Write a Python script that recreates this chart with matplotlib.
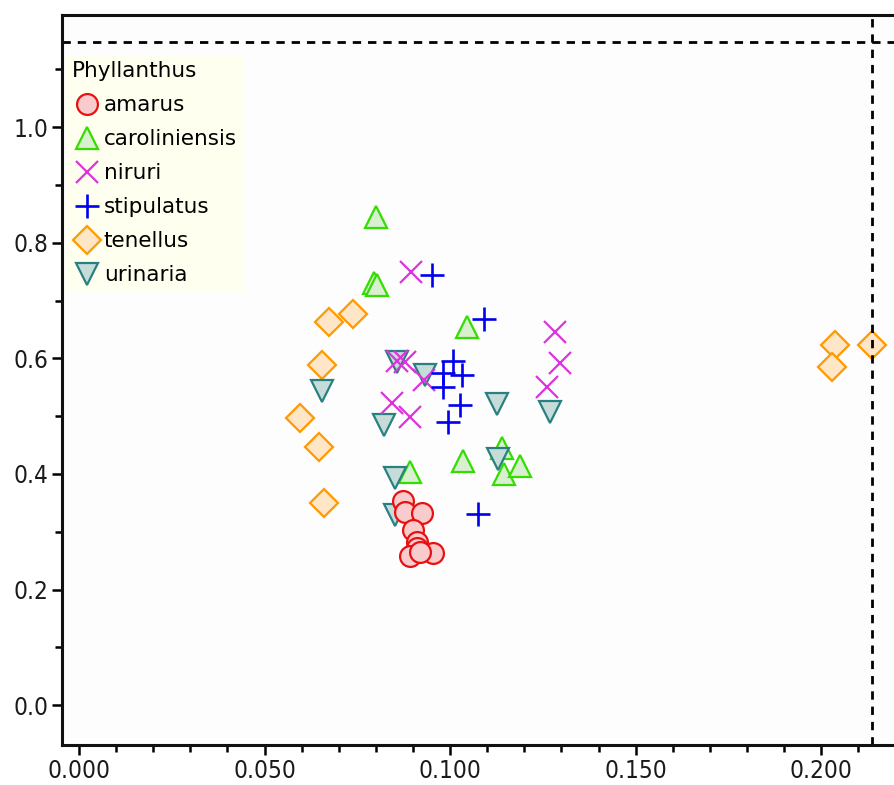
import matplotlib
matplotlib.use('Agg')
import matplotlib.pyplot as plt
from matplotlib.ticker import MultipleLocator, FormatStrFormatter

# ratio measurements per Phyllanthus species
amarus_x = [0.0873, 0.0879, 0.0925, 0.0900, 0.0911, 0.0911, 0.0892, 0.0954, 0.0919]
amarus_y = [0.353, 0.334, 0.332, 0.303, 0.282, 0.272, 0.258, 0.263, 0.265]

caroliniensis_x = [0.0801, 0.0795, 0.0803, 0.1046, 0.0892, 0.1035, 0.1140, 0.1146, 0.1189]
caroliniensis_y = [0.844, 0.730, 0.727, 0.654, 0.403, 0.422, 0.445, 0.400, 0.413]

niruri_x = [0.0895, 0.1283, 0.1296, 0.1261, 0.0857, 0.0879, 0.0930, 0.0844, 0.0892]
niruri_y = [0.749, 0.645, 0.592, 0.550, 0.595, 0.593, 0.562, 0.522, 0.498]

stipulatus_x = [0.0951, 0.1092, 0.1008, 0.0981, 0.1032, 0.0981, 0.1027, 0.0995, 0.1075]
stipulatus_y = [0.744, 0.668, 0.595, 0.574, 0.571, 0.550, 0.519, 0.490, 0.330]

tenellus_x = [0.0674, 0.0739, 0.0655, 0.0596, 0.0647, 0.0660, 0.2038, 0.2030, 0.2137]
tenellus_y = [0.663, 0.676, 0.588, 0.497, 0.446, 0.349, 0.623, 0.585, 0.623]

urinaria_x = [0.0655, 0.0857, 0.0933, 0.0822, 0.1127, 0.1270, 0.0852, 0.1129, 0.0852]
urinaria_y = [0.543, 0.593, 0.571, 0.484, 0.521, 0.507, 0.393, 0.426, 0.329]

# reference cut-offs
x_limit = 0.2137
y_limit = 1.147

plt.rcParams['font.family'] = ['DejaVu Sans']

fig = plt.figure(figsize=(8.95, 7.85), dpi=100)
ax = fig.add_axes([62 / 895, 40 / 785, 1 - 62 / 895, 730 / 785])
ax.set_facecolor('#fdfdfd')

ms = 15
series = {
    'caroliniensis': ax.plot(caroliniensis_x, caroliniensis_y, ls='none', marker='^', ms=ms + 1,
                             mec='#33dd00', mfc='#d8f0d0', mew=1.6)[0],
    'tenellus': ax.plot(tenellus_x, tenellus_y, ls='none', marker='D', ms=ms - 1,
                        mec='#ff9900', mfc='#ffe6c6', mew=1.6)[0],
    'urinaria': ax.plot(urinaria_x, urinaria_y, ls='none', marker='v', ms=ms + 1,
                        mec='#2a8080', mfc='#c5dcd9', mew=1.6)[0],
    'amarus': ax.plot(amarus_x, amarus_y, ls='none', marker='o', ms=ms,
                      mec='#e81010', mfc='#f8cccc', mew=1.6)[0],
    'niruri': ax.plot(niruri_x, niruri_y, ls='none', marker='x', ms=ms + 1,
                      mec='#dd33dd', mew=1.6)[0],
    'stipulatus': ax.plot(stipulatus_x, stipulatus_y, ls='none', marker='+', ms=ms + 2,
                          mec='#0000ee', mew=1.9)[0],
}

ax.axhline(y_limit, color='black', lw=2, ls=(0, (3, 2.5)))
ax.axvline(x_limit, color='black', lw=2, ls=(0, (3, 2.5)))

ax.set_xlim(-0.0046, 0.2199)
ax.set_ylim(-0.069, 1.194)

ax.xaxis.set_major_locator(MultipleLocator(0.05))
ax.xaxis.set_minor_locator(MultipleLocator(0.01))
ax.yaxis.set_major_locator(MultipleLocator(0.2))
ax.yaxis.set_minor_locator(MultipleLocator(0.1))
ax.xaxis.set_major_formatter(FormatStrFormatter('%.3f'))
ax.yaxis.set_major_formatter(FormatStrFormatter('%.1f'))
ax.tick_params(which='major', direction='out', length=7, width=1.8,
               labelsize=17.5, labelcolor='#1a1a1a', pad=3)
ax.tick_params(which='minor', direction='out', length=5, width=1.8)
for lbl in ax.get_xticklabels() + ax.get_yticklabels():
    lbl.set_fontstretch('condensed')

for side in ('left', 'bottom', 'top'):
    ax.spines[side].set_linewidth(2.2)
    ax.spines[side].set_color('#111111')
ax.spines['right'].set_visible(False)

order = ['amarus', 'caroliniensis', 'niruri', 'stipulatus', 'tenellus', 'urinaria']
leg = ax.legend([series[k] for k in order], order, title='Phyllanthus',
                loc='upper left', bbox_to_anchor=(3 / 833, 1 - 40 / 730),
                fontsize=15.5, title_fontsize=15.5, alignment='left',
                handlelength=1.4, handletextpad=0.1, labelspacing=0.65,
                borderpad=0.3, borderaxespad=0, frameon=True, fancybox=False)
leg.get_frame().set_facecolor('#fffff0')
leg.get_frame().set_edgecolor('none')
leg.get_frame().set_alpha(1)

fig.savefig('out.png', dpi=100)
